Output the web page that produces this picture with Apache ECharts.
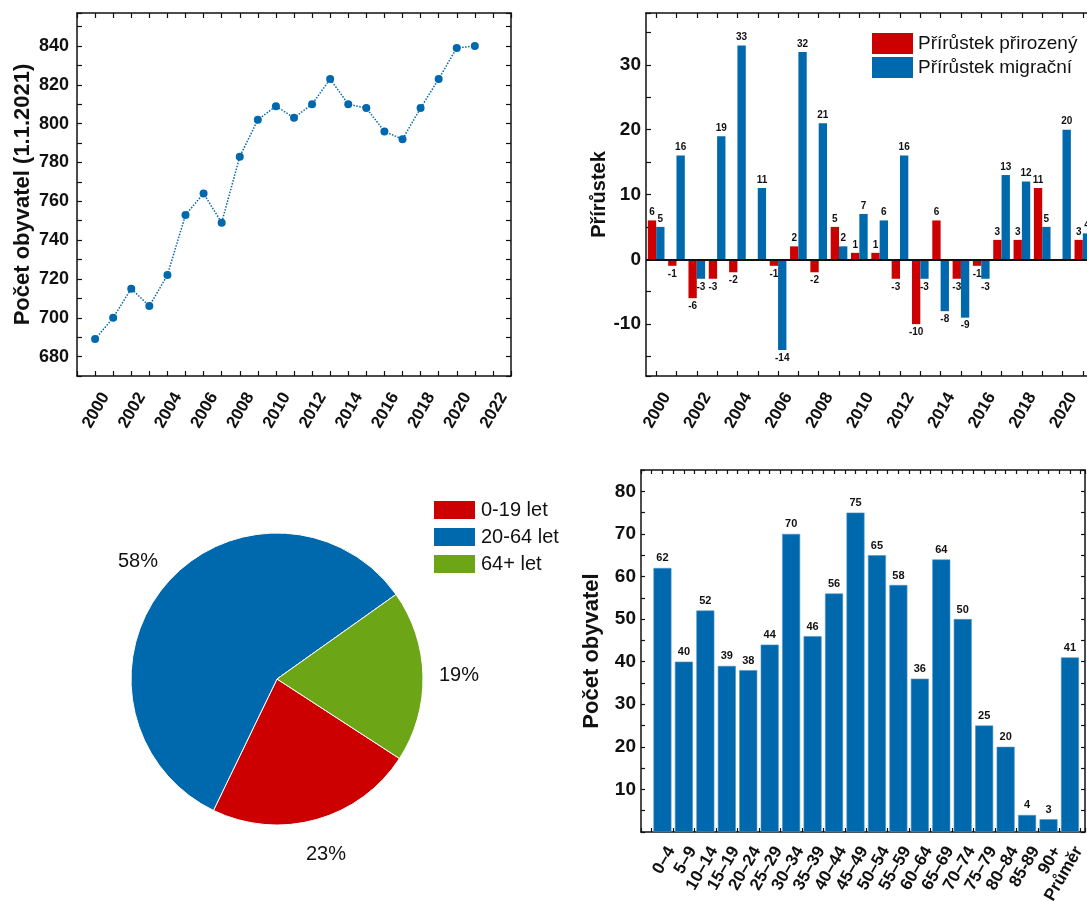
<!DOCTYPE html>
<html>
<head>
<meta charset="utf-8">
<script src="https://cdn.jsdelivr.net/npm/echarts@6/dist/echarts.min.js"></script>
<style>
    html, body { margin: 0; padding: 0; background: #fff; }
    #chart { width: 1087px; height: 901px; }
</style>
</head>
<body>
<div id="chart"></div>
<script>
// data
var years = [2000, 2001, 2002, 2003, 2004, 2005, 2006, 2007, 2008, 2009, 2010,
             2011, 2012, 2013, 2014, 2015, 2016, 2017, 2018, 2019, 2020, 2021];
var population = [689, 700, 715, 706, 722, 753, 764, 749, 783, 802, 809,
                  803, 810, 823, 810, 808, 796, 792, 808, 823, 839, 840];
var naturalGrowth = [6, -1, -6, -3, -2, 0, -1, 2, -2, 5, 1,
                     1, -3, -10, 6, -3, -1, 3, 3, 11, 0, 3];
var migrationGrowth = [5, 16, -3, 19, 33, 11, -14, 32, 21, 2, 7,
                       6, 16, -3, -8, -9, -3, 13, 12, 5, 20, 4];
var ageGroups = ['0–4', '5–9', '10–14', '15–19', '20–24', '25–29', '30–34', '35–39', '40–44', '45–49',
                 '50–54', '55–59', '60–64', '65–69', '70–74', '75–79', '80–84', '85-89', '90+', 'Průměr'];
var ageCounts = [62, 40, 52, 39, 38, 44, 70, 46, 56, 75, 65, 58, 36, 64, 50, 25, 20, 4, 3, 41];
var pieNames = ['0-19 let', '20-64 let', '64+ let'];
var pieShares = [23, 58, 19];

var RED = '#cc0000', BLUE = '#0068ac', GREEN = '#6ca617';
var FONT = 'Liberation Sans, Arial, sans-serif';

var chart = echarts.init(document.getElementById('chart'));

function frameLine() {
    return { show: true, onZero: false, lineStyle: { color: '#111', width: 1.5 } };
}
function innerTick(len) {
    return { show: true, inside: true, length: len || 5, lineStyle: { color: '#111', width: 1.2 } };
}
// rotated tick labels, hung a little below and right of the tick like in the original
function rotLabel(extra) {
    return Object.assign({
        fontFamily: FONT, fontWeight: 'bold', color: '#111',
        fontSize: 17, rotate: 60, margin: 12,
        verticalAlign: 'top', lineHeight: 24
    }, extra);
}
var tickFont = { fontFamily: FONT, fontWeight: 'bold', color: '#111' };

function barData(arr) {
    return arr.map(function (v) {
        return { value: v, label: { position: v < 0 ? 'bottom' : 'top' } };
    });
}

var option = {
    animation: false,
    backgroundColor: '#fff',
    textStyle: { fontFamily: FONT },
    grid: [
        { left: 77, top: 13, width: 434, height: 363, outerBoundsMode: 'none' },
        { left: 646, top: 13, width: 447, height: 363, outerBoundsMode: 'none' },
        { left: 641, top: 470, width: 444, height: 362, outerBoundsMode: 'none' }
    ],
    legend: [
        {
            data: ['Přírůstek přirozený', 'Přírůstek migrační'],
            left: 872, top: 33, orient: 'vertical', padding: 0,
            icon: 'rect', itemWidth: 41, itemHeight: 21, itemGap: 3,
            textStyle: { fontSize: 19, color: '#111', fontFamily: FONT }
        },
        {
            data: pieNames,
            left: 432, top: 499, orient: 'vertical', padding: 0,
            icon: 'rect', itemWidth: 43, itemHeight: 20, itemGap: 5,
            textStyle: { fontSize: 20, color: '#111', fontFamily: FONT }
        }
    ],
    xAxis: [
        // top-left line chart
        {
            type: 'value', gridIndex: 0, position: 'bottom', min: 1999, max: 2023, interval: 1,
            axisLine: frameLine(), axisTick: innerTick(5), splitLine: { show: false },
            axisLabel: rotLabel({
                formatter: function (v) { return v % 2 === 0 ? String(v) : ''; }
            })
        },
        {
            type: 'value', gridIndex: 0, position: 'top', min: 1999, max: 2023, interval: 1,
            axisLine: frameLine(), axisTick: innerTick(5), splitLine: { show: false },
            axisLabel: { show: false }
        },
        // top-right bar chart
        {
            type: 'category', gridIndex: 1, position: 'bottom', data: years,
            axisLine: frameLine(),
            axisTick: Object.assign(innerTick(5), { alignWithLabel: true, interval: 0 }),
            axisLabel: rotLabel({ interval: 1 })
        },
        {
            type: 'category', gridIndex: 1, position: 'top', data: years,
            axisLine: frameLine(),
            axisTick: Object.assign(innerTick(5), { alignWithLabel: true, interval: 0 }),
            axisLabel: { show: false }
        },
        // bottom-right age chart
        {
            type: 'value', gridIndex: 2, position: 'bottom', min: 0, max: 20.7, interval: 0.5,
            axisLine: frameLine(), axisTick: innerTick(4), splitLine: { show: false },
            axisLabel: rotLabel({
                lineHeight: 20, margin: 11,
                formatter: function (v) {
                    return (Number.isInteger(v) && v >= 1 && v <= ageGroups.length) ? ageGroups[v - 1] : '';
                }
            })
        },
        {
            type: 'value', gridIndex: 2, position: 'top', min: 0, max: 20.7, interval: 0.5,
            axisLine: frameLine(), axisTick: innerTick(4), splitLine: { show: false },
            axisLabel: { show: false }
        }
    ],
    yAxis: [
        {
            type: 'value', gridIndex: 0, position: 'left', min: 670, max: 857, interval: 10,
            name: 'Počet obyvatel (1.1.2021)', nameLocation: 'middle', nameGap: 43,
            nameTextStyle: { fontSize: 22, fontWeight: 'bold', color: '#111', fontFamily: FONT },
            axisLine: frameLine(), axisTick: innerTick(5), splitLine: { show: false },
            axisLabel: Object.assign({
                fontSize: 18, margin: 8,
                formatter: function (v) { return v % 20 === 0 ? String(v) : ''; }
            }, tickFont)
        },
        {
            type: 'value', gridIndex: 0, position: 'right', min: 670, max: 857, interval: 10,
            axisLine: frameLine(), axisTick: innerTick(5), splitLine: { show: false },
            axisLabel: { show: false }
        },
        {
            type: 'value', gridIndex: 1, position: 'left', min: -18, max: 38, splitNumber: 11,
            name: 'Přírůstek', nameLocation: 'middle', nameGap: 37,
            nameTextStyle: { fontSize: 20, fontWeight: 'bold', color: '#111', fontFamily: FONT },
            axisLine: frameLine(), axisTick: innerTick(5), splitLine: { show: false },
            axisLabel: Object.assign({
                fontSize: 19, margin: 5,
                formatter: function (v) { return v % 10 === 0 ? String(v) : ''; }
            }, tickFont)
        },
        {
            type: 'value', gridIndex: 2, position: 'left', min: 0, max: 85, interval: 5,
            name: 'Počet obyvatel', nameLocation: 'middle', nameGap: 38,
            nameTextStyle: { fontSize: 22, fontWeight: 'bold', color: '#111', fontFamily: FONT },
            axisLine: frameLine(), axisTick: innerTick(4), splitLine: { show: false },
            axisLabel: Object.assign({
                fontSize: 19, margin: 5,
                formatter: function (v) { return (v % 10 === 0 && v > 0) ? String(v) : ''; }
            }, tickFont)
        },
        {
            type: 'value', gridIndex: 2, position: 'right', min: 0, max: 85, interval: 5,
            axisLine: frameLine(), axisTick: innerTick(4), splitLine: { show: false },
            axisLabel: { show: false }
        }
    ],
    series: [
        {
            name: 'Počet obyvatel',
            type: 'line', xAxisIndex: 0, yAxisIndex: 0,
            data: years.map(function (y, i) { return [y, population[i]]; }),
            symbol: 'circle', symbolSize: 8,
            itemStyle: { color: BLUE },
            lineStyle: { color: BLUE, width: 1.5, type: 'dotted' }
        },
        {
            name: 'Přírůstek přirozený',
            type: 'bar', xAxisIndex: 2, yAxisIndex: 2,
            data: barData(naturalGrowth),
            itemStyle: { color: RED },
            barGap: '0%', barCategoryGap: '18%',
            label: {
                show: true, fontSize: 10, fontWeight: 'bold', color: '#111', distance: 3,
                formatter: function (p) { return p.value === 0 ? '' : String(p.value); }
            },
            markLine: {
                silent: true, symbol: 'none', label: { show: false },
                lineStyle: { color: '#111', width: 2, type: 'solid' },
                data: [{ yAxis: 0 }]
            }
        },
        {
            name: 'Přírůstek migrační',
            type: 'bar', xAxisIndex: 2, yAxisIndex: 2,
            data: barData(migrationGrowth),
            itemStyle: { color: BLUE },
            barGap: '0%', barCategoryGap: '18%',
            label: {
                show: true, fontSize: 10, fontWeight: 'bold', color: '#111', distance: 3,
                formatter: function (p) { return p.value === 0 ? '' : String(p.value); }
            }
        },
        {
            name: 'Věkové skupiny',
            type: 'bar', xAxisIndex: 4, yAxisIndex: 3,
            data: ageCounts.map(function (v, i) { return [i + 1, v]; }),
            barWidth: 18,
            itemStyle: { color: BLUE, borderColor: '#4f95c8', borderWidth: 0.6 },
            label: {
                show: true, position: 'top', distance: 4,
                fontSize: 11, fontWeight: 'bold', color: '#111',
                formatter: function (p) { return String(p.value[1]); }
            }
        },
        {
            name: 'Věk',
            type: 'pie', center: [277, 679], radius: 146,
            startAngle: -33, clockwise: true,
            label: { show: false }, labelLine: { show: false },
            itemStyle: { borderColor: '#fff', borderWidth: 1 },
            data: pieNames.map(function (n, i) {
                return { name: n, value: pieShares[i], itemStyle: { color: [RED, BLUE, GREEN][i] } };
            })
        },
        {
            // transparent ring carrying the percentage labels outside the pie
            name: 'Podíl',
            type: 'pie', center: [277, 679], radius: [170, 188],
            startAngle: -33, clockwise: true, silent: true,
            labelLine: { show: false },
            label: {
                show: true, position: 'inside', fontSize: 20, color: '#111', fontFamily: FONT,
                formatter: '{c}%'
            },
            itemStyle: { color: 'rgba(0,0,0,0)' },
            data: pieNames.map(function (n, i) { return { name: n, value: pieShares[i] }; })
        }
    ]
};

chart.setOption(option);
window.addEventListener('resize', function () { chart.resize(); });
</script>
</body>
</html>
